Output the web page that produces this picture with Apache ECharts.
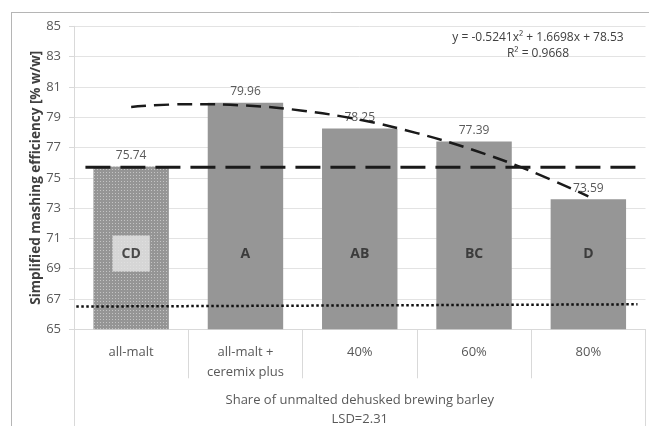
<!DOCTYPE html>
<html><head><meta charset="utf-8">
<script src="https://cdn.jsdelivr.net/npm/echarts@6/dist/echarts.min.js"></script>
<style>html,body{margin:0;padding:0;background:#fff}#c{width:649px;height:426px}</style>
</head><body><div id="c"></div>
<script>
const categories = ['all-malt', 'all-malt +\nceremix plus', '40%', '60%', '80%'];
const values = [75.74, 79.96, 78.25, 77.39, 73.59];
const letters = ['CD', 'A', 'AB', 'BC', 'D'];
const letterLevel = [70, 70, 70, 70, 70];
const yTicks = {min: 65, max: 85, interval: 2};
// polynomial trend line, read at half-category steps
const trendX = [1, 1.5, 2, 2.5, 3, 3.5, 4, 4.5, 5];
const trendY = [79.68, 79.86, 79.77, 79.43, 78.83, 77.95, 76.82, 75.43, 73.78];
// reference lines
const refDashX = [0.6, 5.45];
const refDashY = [75.7, 75.7];
const refDotX = [0.52, 5.43];
const refDotY = [66.5, 66.65];
const equation = 'y = -0.5241x² + 1.6698x + 78.53';
const rSquared = 'R² = 0.9668';

const FONT = 'Open Sans';
const chart = echarts.init(document.getElementById('c'));

const pc = document.createElement('canvas');
pc.width = 3; pc.height = 3;
const px = pc.getContext('2d');
px.fillStyle = '#959595'; px.fillRect(0, 0, 3, 3);
px.fillStyle = '#c4c4c4'; px.fillRect(1, 1, 1, 1);

const barData = values.map((v, i) => i === 0
  ? {value: v, itemStyle: {color: {image: pc, repeat: 'repeat'}}}
  : v);

const letterData = letters.map((l, i) => ({
  value: [i, letterLevel[i]],
  label: i === 0 ? {backgroundColor: '#e6e6e6', padding: [11, 9, 11, 9]} : {}
}));

function frameAxis(gridIndex, position, color) {
  return {
    type: 'value', gridIndex: gridIndex, position: position, min: 0, max: 1, show: true,
    axisLine: {show: true, onZero: false, lineStyle: {color: color, width: 1}},
    axisTick: {show: false}, axisLabel: {show: false}, splitLine: {show: false}, silent: true
  };
}

chart.setOption({
  animation: false,
  title: [
    {text: equation, left: 538, top: 31, padding: 0, textAlign: 'center',
      textStyle: {color: '#404040', fontFamily: FONT, fontSize: 12, fontWeight: 'normal', lineHeight: 14}},
    {text: rSquared, left: 538, top: 47, padding: 0, textAlign: 'center',
      textStyle: {color: '#404040', fontFamily: FONT, fontSize: 12, fontWeight: 'normal', lineHeight: 14}}
  ],
  grid: [
    {left: 74, top: 26.3, right: 3.5, bottom: 96.7, containLabel: false, outerBoundsMode: 'none'},
    {left: 74, top: 378.3, right: 3.5, bottom: 0, containLabel: false, outerBoundsMode: 'none'},
    {left: 11.5, top: 12.5, right: 0, bottom: 0, containLabel: false, outerBoundsMode: 'none'}
  ],
  xAxis: [{
    type: 'category', data: categories, gridIndex: 0,
    axisLine: {show: true, lineStyle: {color: '#d9d9d9', width: 1}},
    axisTick: {show: true, length: 49, interval: 0, lineStyle: {color: '#d9d9d9'}},
    axisLabel: {interval: 0, color: '#595959', fontFamily: FONT, fontSize: 13, lineHeight: 20, verticalAlign: 'top', margin: 13},
    name: 'Share of unmalted dehusked brewing barley\nLSD=2.31',
    nameLocation: 'middle', nameGap: 61, nameMoveOverlap: false,
    nameTextStyle: {color: '#595959', fontFamily: FONT, fontSize: 13, lineHeight: 19, verticalAlign: 'top'}
  }, {
    type: 'value', gridIndex: 0, min: 0.5, max: 5.5, show: false, position: 'top'
  }, {
    type: 'value', gridIndex: 1, min: 0, max: 1, show: false
  },
    frameAxis(2, 'top', '#b5b5b5')
  ],
  yAxis: [{
    type: 'value', gridIndex: 0, min: yTicks.min, max: yTicks.max, interval: yTicks.interval,
    axisLine: {show: true, lineStyle: {color: '#d9d9d9'}},
    axisTick: {show: true, length: 5, lineStyle: {color: '#d9d9d9'}},
    splitLine: {lineStyle: {color: '#e3e3e3'}},
    axisLabel: {color: '#595959', fontFamily: FONT, fontSize: 13, margin: 13},
    name: 'Simplified mashing efficiency [% w/w]',
    nameLocation: 'middle', nameGap: 31, nameMoveOverlap: false,
    nameTextStyle: {color: '#404040', fontFamily: FONT, fontSize: 13.5, fontWeight: 'bold'}
  },
    frameAxis(1, 'left', '#d9d9d9'),
    frameAxis(1, 'right', '#d9d9d9'),
    frameAxis(2, 'left', '#b5b5b5')
  ],
  series: [{
    type: 'bar', data: barData, barWidth: '66%',
    itemStyle: {color: '#969696'},
    label: {show: true, position: 'top', distance: 5, color: '#595959', fontFamily: FONT, fontSize: 12,
      formatter: p => p.value.toFixed(2)},
    z: 2
  }, {
    type: 'scatter', data: letterData, symbolSize: 0,
    label: {show: true, position: 'inside', formatter: p => letters[p.dataIndex],
      color: '#262626', fontFamily: FONT, fontSize: 14, fontWeight: 'bold'},
    z: 3
  }, {
    type: 'line', xAxisIndex: 1, data: refDashX.map((x, i) => [x, refDashY[i]]),
    symbol: 'none', lineStyle: {color: '#1a1a1a', width: 3, type: [25, 10]}, z: 4
  }, {
    type: 'line', xAxisIndex: 1, data: refDotX.map((x, i) => [x, refDotY[i]]),
    symbol: 'none', lineStyle: {color: '#111', width: 2.5, type: [2.5, 2.5]}, z: 4
  }, {
    type: 'line', xAxisIndex: 1, data: trendX.map((x, i) => [x, trendY[i]]),
    symbol: 'none', smooth: 0.4, lineStyle: {color: '#1a1a1a', width: 2.5, type: [15, 8]}, z: 5
  }]
});
</script></body></html>
